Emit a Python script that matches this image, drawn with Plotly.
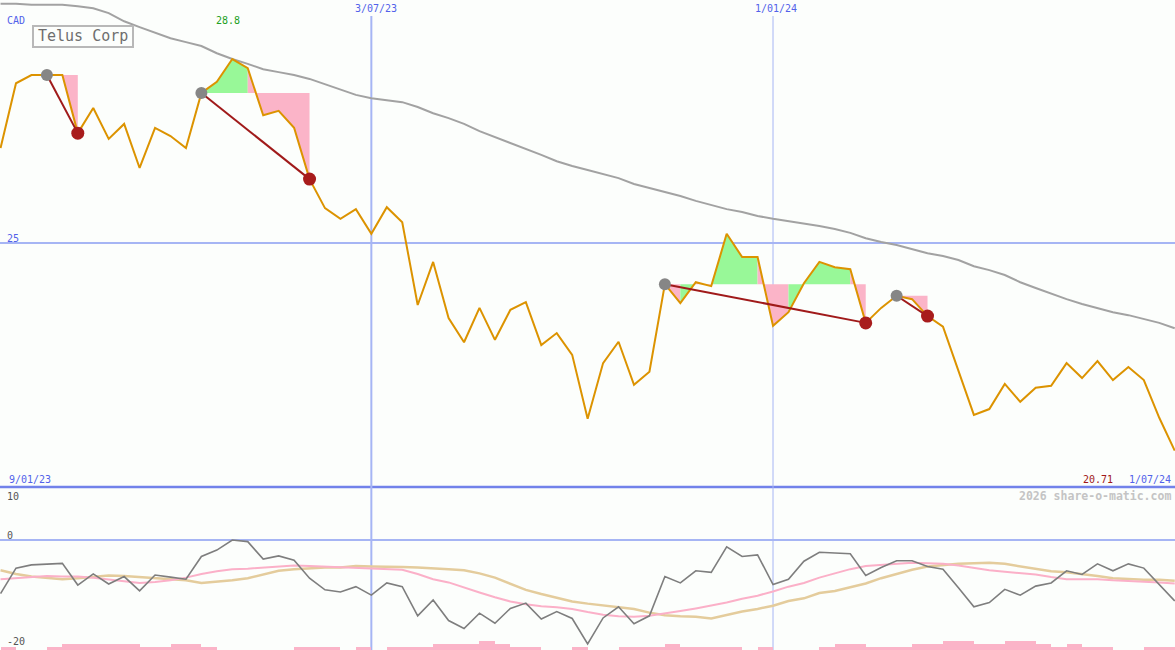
import plotly.graph_objects as go
import pandas as pd

# ---------------- data (weekly closes, CAD) ----------------
start_date = "2023-01-16"
n_weeks = 77

price = [26.96, 28.30, 28.47, 28.47, 28.47, 27.27, 27.79, 27.15, 27.46, 26.55,
         27.38, 27.21, 26.96, 28.10, 28.33, 28.80, 28.61, 27.64, 27.73, 27.38,
         26.32, 25.72, 25.50, 25.70, 25.19, 25.74, 25.43, 23.72, 24.61, 23.45,
         22.95, 23.66, 23.00, 23.62, 23.78, 22.89, 23.14, 22.69, 21.37, 22.52,
         22.96, 22.07, 22.34, 24.15, 23.76, 24.19, 24.11, 25.19, 24.71, 24.71,
         23.29, 23.57, 24.17, 24.61, 24.50, 24.46, 23.35, 23.66, 23.91, 23.84,
         23.49, 23.27, 22.38, 21.45, 21.57, 22.09, 21.72, 22.01, 22.05, 22.52,
         22.21, 22.56, 22.17, 22.44, 22.17, 21.39, 20.71]

ma_long = [29.94, 29.94, 29.92, 29.92, 29.92, 29.89, 29.85, 29.75, 29.58, 29.46,
           29.34, 29.23, 29.15, 29.07, 28.92, 28.80, 28.70, 28.59, 28.53, 28.47,
           28.39, 28.28, 28.18, 28.06, 27.99, 27.95, 27.91, 27.81, 27.68, 27.58,
           27.46, 27.31, 27.19, 27.07, 26.94, 26.82, 26.69, 26.59, 26.51, 26.43,
           26.34, 26.22, 26.14, 26.05, 25.97, 25.87, 25.78, 25.70, 25.64, 25.56,
           25.50, 25.45, 25.41, 25.35, 25.29, 25.21, 25.10, 25.02, 24.96, 24.88,
           24.79, 24.73, 24.65, 24.52, 24.44, 24.34, 24.19, 24.07, 23.95, 23.84,
           23.74, 23.66, 23.57, 23.51, 23.43, 23.35, 23.24]

osc = [-10.1, -5.3, -4.7, -4.6, -4.4, -8.5, -6.4, -8.3, -6.9, -9.6,
       -6.6, -7.0, -7.4, -3.1, -1.9, 0.0, -0.3, -3.6, -3.0, -3.8,
       -7.2, -9.4, -9.8, -8.8, -10.4, -8.1, -8.8, -14.3, -11.3, -15.2,
       -16.7, -13.8, -15.7, -12.9, -11.9, -14.9, -13.5, -14.8, -19.6, -14.7,
       -12.6, -15.8, -14.3, -6.9, -8.1, -5.8, -6.1, -1.3, -3.1, -2.8,
       -8.4, -7.4, -4.0, -2.3, -2.5, -2.6, -6.7, -5.2, -3.9, -3.9,
       -5.0, -5.5, -9.0, -12.6, -11.8, -9.3, -10.4, -8.7, -8.1, -5.8,
       -6.5, -4.5, -5.8, -4.5, -5.3, -8.4, -11.5]

osc_fast = [-7.4, -7.2, -7.0, -6.8, -6.9, -6.9, -7.1, -7.4, -7.8, -8.1,
            -7.9, -7.6, -7.1, -6.4, -5.9, -5.5, -5.4, -5.2, -5.0, -4.8,
            -4.9, -5.0, -5.1, -5.2, -5.4, -5.5, -5.6, -6.4, -7.4, -8.0,
            -9.0, -9.9, -10.8, -11.6, -12.1, -12.5, -12.7, -13.0, -13.6, -14.1,
            -14.4, -14.5, -14.3, -13.9, -13.4, -12.9, -12.4, -11.8, -11.1, -10.5,
            -9.7, -8.8, -8.1, -7.1, -6.3, -5.5, -4.9, -4.7, -4.5, -4.3,
            -4.4, -4.5, -4.8, -5.3, -5.7, -6.0, -6.3, -6.5, -7.0, -7.4,
            -7.4, -7.4, -7.6, -7.7, -7.8, -8.0, -8.2]

osc_slow = [-5.7, -6.4, -6.9, -7.2, -7.4, -7.2, -6.9, -6.7, -6.8, -7.0,
            -7.2, -7.3, -7.6, -8.1, -7.9, -7.6, -7.2, -6.5, -5.8, -5.5,
            -5.3, -5.2, -5.2, -4.9, -5.0, -5.0, -5.1, -5.2, -5.3, -5.5,
            -5.7, -6.3, -7.1, -8.2, -9.4, -10.2, -10.9, -11.6, -12.0, -12.3,
            -12.6, -13.0, -13.7, -14.2, -14.4, -14.5, -14.8, -14.1, -13.5, -13.0,
            -12.4, -11.5, -11.0, -10.0, -9.6, -8.9, -8.2, -7.2, -6.4, -5.6,
            -5.0, -4.7, -4.5, -4.4, -4.3, -4.5, -5.0, -5.5, -5.9, -6.1,
            -6.4, -6.8, -7.2, -7.4, -7.5, -7.5, -7.7]

vol_level = [1, 0, 0, 1, 2, 2, 2, 2, 2, 1, 1, 2, 2, 1, 0, 0, 0, 0, 0, 1,
             1, 1, 0, 1, 0, 1, 1, 1, 2, 2, 2, 3, 2, 1, 1, 0, 0, 1, 0, 0,
             1, 1, 1, 2, 1, 1, 1, 1, 0, 1, 0, 0, 0, 1, 2, 2, 1, 1, 1, 2,
             2, 3, 3, 2, 2, 3, 3, 2, 1, 2, 1, 1, 0, 0, 1, 1, 0]

# trend signals: (start week index, end week index)
signals = [(3, 5), (13, 20), (43, 56), (58, 60)]

date_marks = ["2023-07-03", "2024-01-01"]
date_mark_labels = ["3/07/23", "1/01/24"]
title = "Telus Corp"
currency = "CAD"
high_label = "28.8"
last_label = "20.71"
first_date_label = "9/01/23"
last_date_label = "1/07/24"
ref_level = 25

# ---------------- figure ----------------
W, H = 1175, 650
dates = pd.date_range(start_date, periods=n_weeks, freq="7D")

BG = "#fcfefc"
ORANGE = "#dc9300"
GREEN = "#98f898"
PINK = "#fbb4c8"
BLUE_T = "#5262ea"
LBLUE = "#a6b5f4"
FONT = "DejaVu Sans Mono"

fig = go.Figure()

# volume-like bars in lower panel
fig.add_trace(go.Bar(x=dates, y=vol_level, width=7 * 86400000, offset=0,
                     marker=dict(color=PINK, line=dict(width=0)),
                     xaxis="x", yaxis="y3", hoverinfo="skip"))

# oscillator lines
fig.add_trace(go.Scatter(x=dates, y=osc_slow, mode="lines", yaxis="y2",
                         line=dict(color="#e4cc9c", width=2.5)))
fig.add_trace(go.Scatter(x=dates, y=osc_fast, mode="lines", yaxis="y2",
                         line=dict(color="#fbb0c8", width=2)))
fig.add_trace(go.Scatter(x=dates, y=osc, mode="lines", yaxis="y2",
                         line=dict(color="#7e7e7e", width=1.6)))

# long moving average
fig.add_trace(go.Scatter(x=dates, y=ma_long, mode="lines", yaxis="y",
                         line=dict(color="#a2a2a2", width=2)))

# fills for signals (per interval coloured by end point vs level)
for s, e in signals:
    lvl = price[s]
    groups = []
    for i in range(s, e):
        col = GREEN if price[i + 1] > lvl else PINK
        if groups and groups[-1][0] == col:
            groups[-1][2] = i + 1
        else:
            groups.append([col, i, i + 1])
    for col, a, b in groups:
        xs = list(dates[a:b + 1]) + [dates[b], dates[a]]
        ys = price[a:b + 1] + [lvl, lvl]
        fig.add_trace(go.Scatter(x=xs, y=ys, mode="lines", fill="toself",
                                 fillcolor=col, line=dict(width=0),
                                 yaxis="y", hoverinfo="skip"))

# price line
fig.add_trace(go.Scatter(x=dates, y=price, mode="lines", yaxis="y",
                         line=dict(color=ORANGE, width=2)))

# trend lines + markers
for s, e in signals:
    fig.add_trace(go.Scatter(x=[dates[s], dates[e]], y=[price[s], price[e]],
                             mode="lines", yaxis="y",
                             line=dict(color="#a01a1a", width=2)))
    fig.add_trace(go.Scatter(x=[dates[s]], y=[price[s]], mode="markers", yaxis="y",
                             marker=dict(color="#868686", size=12)))
    fig.add_trace(go.Scatter(x=[dates[e]], y=[price[e]], mode="markers", yaxis="y",
                             marker=dict(color="#a81c1c", size=13)))

split = 1 - 487 / H

def py(ypx):
    return 1 - ypx / H

def px(xpx):
    return xpx / W

shapes = []
shapes.append(dict(type="line", xref="paper", yref="y", x0=0, x1=1,
                   y0=ref_level, y1=ref_level, line=dict(color=LBLUE, width=2), layer="below"))
shapes.append(dict(type="line", xref="paper", yref="paper", x0=0, x1=1,
                   y0=split, y1=split, line=dict(color="#7282ea", width=2.5), layer="below"))
shapes.append(dict(type="line", xref="paper", yref="y2", x0=0, x1=1,
                   y0=0, y1=0, line=dict(color=LBLUE, width=2), layer="below"))
for d, wdt in zip(date_marks, [2, 1]):
    shapes.append(dict(type="line", xref="x", yref="paper", x0=d, x1=d,
                       y0=0, y1=py(16), line=dict(color=LBLUE, width=wdt), layer="below"))
shapes.append(dict(type="rect", xref="paper", yref="paper", x0=px(33), x1=px(133),
                   y0=py(47), y1=py(26), line=dict(color="#b8b8b8", width=2),
                   fillcolor="rgba(0,0,0,0)", layer="above"))

annotations = []

def txt(text, xpx, ypx, color, size=10, xanchor="center", bold=False):
    annotations.append(dict(text=("<b>%s</b>" % text) if bold else text,
                            x=px(xpx), y=py(ypx), xref="paper", yref="paper",
                            xanchor=xanchor, yanchor="middle", showarrow=False,
                            font=dict(family=FONT, size=size, color=color)))

txt(currency, 5, 21, BLUE_T, xanchor="left")
txt(title, 83, 36, "#6e6e6e", size=15)
txt(high_label, 228, 21, "#22a022")
for lbl, xp in zip(date_mark_labels, [376, 776]):
    txt(lbl, xp, 9, BLUE_T)
txt(str(ref_level), 5, 238, BLUE_T, xanchor="left")
txt(first_date_label, 7, 479, BLUE_T, xanchor="left")
txt(last_label, 1098, 479, "#a01818")
txt(last_date_label, 1173, 479, BLUE_T, xanchor="right")
txt("2026 share-o-matic.com", 1173, 496, "#c4c4c4", size=11.5, xanchor="right", bold=True)
txt("10", 5, 496, "#555555", xanchor="left")
txt("0", 5, 535, "#555555", xanchor="left")
txt("-20", 5, 641, "#555555", xanchor="left")

fig.update_layout(
    width=W, height=H,
    margin=dict(l=0, r=0, t=0, b=0),
    paper_bgcolor=BG, plot_bgcolor=BG,
    showlegend=False,
    bargap=0,
    xaxis=dict(type="date", range=["2023-01-15 18:00", "2024-07-01 03:00"],
               visible=False, fixedrange=True),
    yaxis=dict(domain=[split, 1], range=[19.96, 30.02], visible=False),
    yaxis2=dict(domain=[0, split], range=[-20.75, 10], visible=False, anchor="x"),
    yaxis3=dict(domain=[0, split], range=[0, 163 / 3], visible=False,
                overlaying="y2", anchor="x"),
    shapes=shapes,
    annotations=annotations,
)

fig.write_html("out.html", config={"displayModeBar": False},
               post_script="document.body.style.margin='0';"
                           "document.body.style.overflow='hidden';"
                           "document.body.style.background='" + BG + "';")
